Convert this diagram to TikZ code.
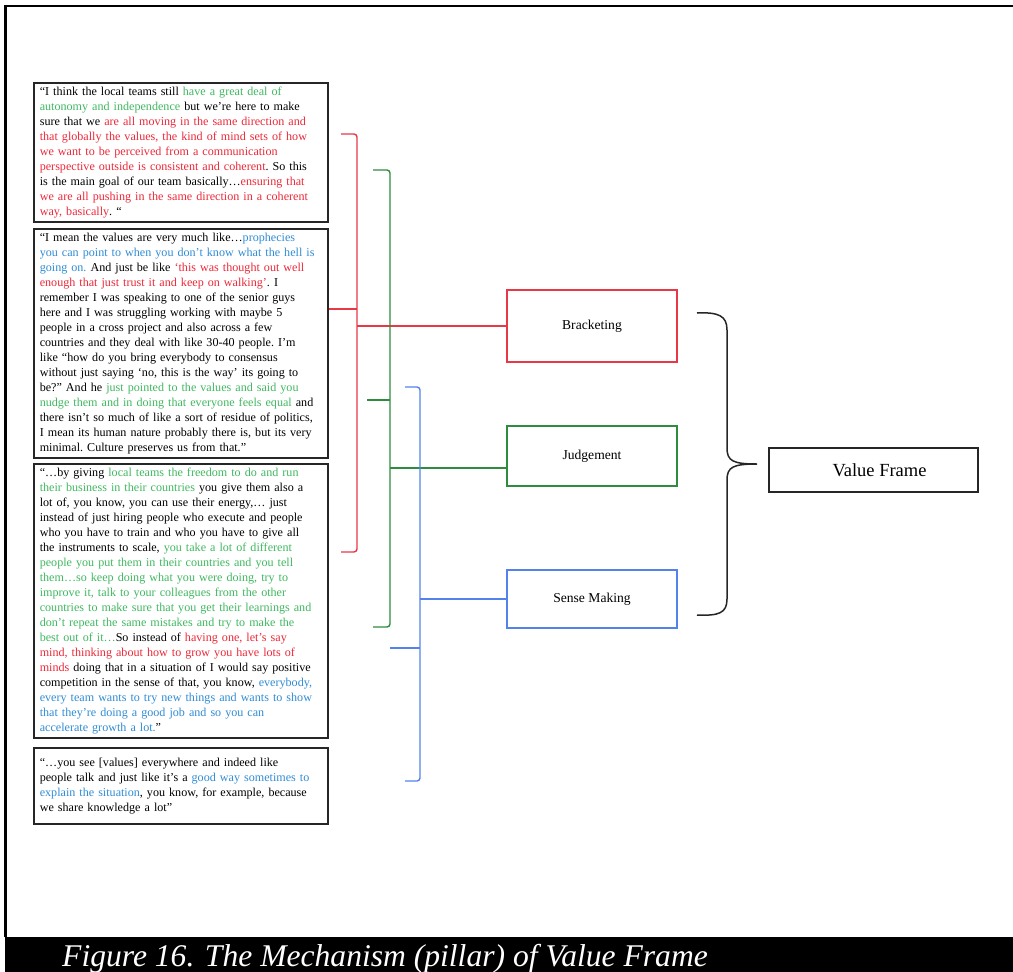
\documentclass[tikz,border=0pt]{standalone}
\usepackage{fontspec}
\setmainfont{Liberation Serif}
\usetikzlibrary{calc}

% text highlight colours
\definecolor{txgreen}{RGB}{64,184,96}
\definecolor{txred}{RGB}{236,40,56}
\definecolor{txblue}{RGB}{48,140,212}
% line colours
\definecolor{lnred}{RGB}{232,56,70}
\definecolor{lngreen}{RGB}{46,140,62}
\definecolor{lnblue}{RGB}{84,130,236}

\newcommand{\qg}[1]{\textcolor{txgreen}{#1}}
\newcommand{\qr}[1]{\textcolor{txred}{#1}}
\newcommand{\qb}[1]{\textcolor{txblue}{#1}}
% one unbreakable line of a quotation
\newcommand{\qline}[1]{\mbox{#1}}

\begin{document}
\begin{tikzpicture}[x=1pt,y=-1pt,
  quote/.style={draw=black!85, line width=1.6pt, rectangle, anchor=north west,
    text width=282pt, inner xsep=6pt, inner ysep=4pt, align=left,
    font=\fontsize{12.1}{15}\selectfont\frenchspacing},
  pillar/.style={rectangle, line width=1.5pt, minimum width=170pt,
    font=\fontsize{13.6}{16}\selectfont},
  link/.style={line width=1.4pt},
  hook/.style={line width=1.4pt, rounded corners=3pt},
  brace/.style={line width=1.5pt, black!85}]

\useasboundingbox (0,0) rectangle (1013,972);

% page frame and caption band
\draw[line width=2.5pt] (5.5,937) -- (5.5,6) -- (1013,6);
\fill[black] (4.5,937) rectangle (1013,972);
\node[anchor=base west, inner sep=0pt, text=white,
      font=\fontsize{31.6}{34}\selectfont\itshape] (caption) at (62,966)
  {Figure 16. The Mechanism (pillar) of Value Frame};

% quotations
\node[quote] (q1) at (33,82) {%
\qline{“I think the local teams still \qg{have a great deal of}}\\
\qline{\qg{autonomy and independence} but we’re here to make}\\
\qline{sure that we \qr{are all moving in the same direction and}}\\
\qline{\qr{that globally the values, the kind of mind sets of how}}\\
\qline{\qr{we want to be perceived from a communication}}\\
\qline{\qr{perspective outside is consistent and coherent}. So this}\\
\qline{is the main goal of our team basically…\qr{ensuring that}}\\
\qline{\qr{we are all pushing in the same direction in a coherent}}\\
\qline{\qr{way, basically}. “}};

\node[quote] (q2) at (33,228) {%
\qline{“I mean the values are very much like…\qb{prophecies}}\\
\qline{\qb{you can point to when you don’t know what the hell is}}\\
\qline{\qb{going on.} And just be like \qr{‘this was thought out well}}\\
\qline{\qr{enough that just trust it and keep on walking’}. I}\\
\qline{remember I was speaking to one of the senior guys}\\
\qline{here and I was struggling working with maybe 5}\\
\qline{people in a cross project and also across a few}\\
\qline{countries and they deal with like 30-40 people. I’m}\\
\qline{like “how do you bring everybody to consensus}\\
\qline{without just saying ‘no, this is the way’ its going to}\\
\qline{be?” And he \qg{just pointed to the values and said you}}\\
\qline{\qg{nudge them and in doing that everyone feels equal} and}\\
\qline{there isn’t so much of like a sort of residue of politics,}\\
\qline{I mean its human nature probably there is, but its very}\\
\qline{minimal. Culture preserves us from that.”}};

\node[quote] (q3) at (33,463) {%
\qline{“…by giving \qg{local teams the freedom to do and run}}\\
\qline{\qg{their business in their countries} you give them also a}\\
\qline{lot of, you know, you can use their energy,… just}\\
\qline{instead of just hiring people who execute and people}\\
\qline{who you have to train and who you have to give all}\\
\qline{the instruments to scale, \qg{you take a lot of different}}\\
\qline{\qg{people you put them in their countries and you tell}}\\
\qline{\qg{them…so keep doing what you were doing, try to}}\\
\qline{\qg{improve it, talk to your colleagues from the other}}\\
\qline{\qg{countries to make sure that you get their learnings and}}\\
\qline{\qg{don’t repeat the same mistakes and try to make the}}\\
\qline{\qg{best out of it…}So instead of \qr{having one, let’s say}}\\
\qline{\qr{mind, thinking about how to grow you have lots of}}\\
\qline{\qr{minds} doing that in a situation of I would say positive}\\
\qline{competition in the sense of that, you know, \qb{everybody,}}\\
\qline{\qb{every team wants to try new things and wants to show}}\\
\qline{\qb{that they’re doing a good job and so you can}}\\
\qline{\qb{accelerate growth a lot.}”}};

\node[quote, inner ysep=10pt] (q4) at (33,747) {%
\qline{“…you see [values] everywhere and indeed like}\\
\qline{people talk and just like it’s a \qb{good way sometimes to}}\\
\qline{\qb{explain the situation}, you know, for example, because}\\
\qline{we share knowledge a lot”}};

% the three pillars and the frame
\node[pillar, draw=lnred, minimum height=72pt] (brk) at (592,326) {Bracketing};
\node[pillar, draw=lngreen, minimum height=60pt] (jud) at (592,456) {Judgement};
\node[pillar, draw=lnblue, minimum height=58pt] (sns) at (592,599) {Sense Making};
\node[rectangle, draw=black!85, line width=1.6pt, minimum width=209pt,
      minimum height=44pt, font=\fontsize{18.5}{20}\selectfont] (vf) at (873.5,470)
  {\hspace*{12pt}Value Frame};

% red bracket: Bracketing
\coordinate (rtop) at (341,134);
\coordinate (rbot) at (341,552);
\coordinate (rtick) at (357,309);
\coordinate (rmid) at (357,326);
\draw[hook, lnred] (rtop) -- (357,134) -- (357,552) -- (rbot);
\draw[link, lnred] (rtick -| q2.east) -- (rtick);
\draw[link, lnred] (rmid) -- (brk.west);

% green bracket: Judgement
\coordinate (gtop) at (373,170);
\coordinate (gbot) at (373,627);
\coordinate (gtickin) at (367,400);
\coordinate (gtick) at (390,400);
\coordinate (gmid) at (390,468);
\draw[hook, lngreen] (gtop) -- (390,170) -- (390,627) -- (gbot);
\draw[link, lngreen] (gtickin) -- (gtick);
\draw[link, lngreen] (gmid) -- (gmid -| jud.west);

% blue bracket: Sense Making
\coordinate (btop) at (405,387);
\coordinate (bbot) at (405,781);
\coordinate (btickin) at (390,648);
\coordinate (btick) at (420,648);
\coordinate (bmid) at (420,599);
\draw[hook, lnblue] (btop) -- (420,387) -- (420,781) -- (bbot);
\draw[link, lnblue] (btickin) -- (btick);
\draw[link, lnblue] (bmid) -- (sns.west);

% brace gathering the pillars into the frame
\draw[brace] (697,313) .. controls (719,312) and (727,316) .. (727,330)
  -- (727,448) .. controls (727,461) and (733,464) .. (757,464)
  .. controls (733,464) and (727,467) .. (727,480)
  -- (727,599) .. controls (727,613) and (719,616) .. (697,615);

\end{tikzpicture}
\end{document}
